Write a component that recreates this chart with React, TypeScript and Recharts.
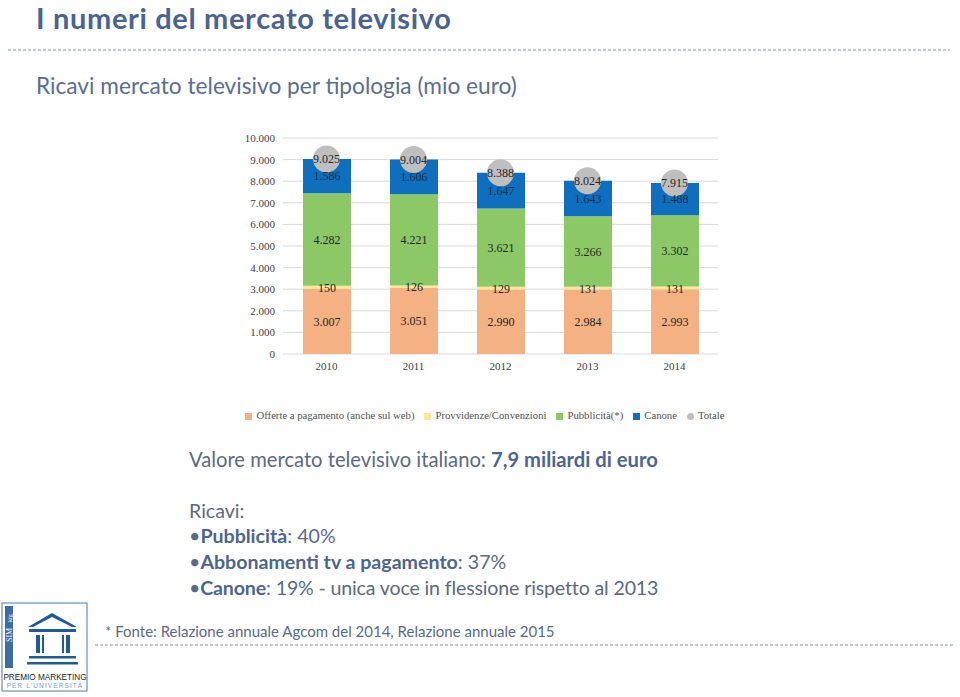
import {
  ComposedChart, Bar, Line, XAxis, YAxis, CartesianGrid, Legend, LabelList
} from 'recharts';

const years = ['2010', '2011', '2012', '2013', '2014'];
const offerte = [3007, 3051, 2990, 2984, 2993];
const provvidenze = [150, 126, 129, 131, 131];
const pubblicita = [4282, 4221, 3621, 3266, 3302];
const canone = [1586, 1606, 1647, 1643, 1488];
const totale = [9025, 9004, 8388, 8024, 7915];
const yTicks = [0, 1000, 2000, 3000, 4000, 5000, 6000, 7000, 8000, 9000, 10000];
const seriesNames = ['Offerte a pagamento (anche sul web)', 'Provvidenze/Convenzioni', 'Pubblicità(*)', 'Canone', 'Totale'];

const data = years.map((year, i) => ({
  year,
  offerte: offerte[i],
  provvidenze: provvidenze[i],
  pubblicita: pubblicita[i],
  canone: canone[i],
  totale: totale[i],
}));

// punto come separatore delle migliaia
const fmt = (v: any) => String(v).replace(/\B(?=(\d{3})+(?!\d))/g, '.');

const SERIF = '"Liberation Serif", "Times New Roman", serif';
const SANS = 'Lato, "Open Sans", sans-serif';
const labelStyle = { fill: '#262626', fontSize: 12, fontFamily: SERIF };
const textCol = '#5b6a84';
const boldCol = '#4d6590';

function Logo() {
  return (
    <svg width={90} height={92} style={{ position: 'absolute', left: 0, top: 602 }}>
      <rect x={2} y={1} width={85} height={88} fill="#fff" stroke="#4a78ad" strokeWidth={1} />
      <rect x={5} y={4} width={8} height={62} fill="#3c6ea5" />
      <text x={0} y={0} transform="translate(11.5,40) rotate(-90)" fontSize={8} fill="#fff" fontFamily={SERIF}>SIM</text>
      <text x={0} y={0} transform="translate(11.5,20) rotate(-90)" fontSize={6} fill="#fff" fontFamily={SERIF}>ktg</text>
      <polygon points="28,25 52,11 77,25 72,25 52,15 33,25" fill="#1f5b98" />
      <rect x={29} y={27} width={47} height={3} fill="#1f5b98" />
      <rect x={36} y={33} width={4} height={18} fill="#1f5b98" />
      <rect x={42} y={33} width={2} height={18} fill="#1f5b98" />
      <rect x={62} y={33} width={2} height={18} fill="#1f5b98" />
      <rect x={66} y={33} width={4} height={18} fill="#1f5b98" />
      <rect x={29} y={54} width={47} height={2.5} fill="#1f5b98" />
      <rect x={27} y={60} width={51} height={2.5} fill="#1f5b98" />
      <text x={45} y={78} textAnchor="middle" fontSize={8.2} fill="#1a1a1a" fontFamily='"Liberation Sans", Arial, sans-serif'>PREMIO MARKETING</text>
      <text x={45} y={86} textAnchor="middle" fontSize={6.5} letterSpacing={1.1} fill="#6f9fd0" fontFamily='"Liberation Sans", Arial, sans-serif'>PER L'UNIVERSITÀ</text>
    </svg>
  );
}

export default function App() {
  return (
    <div style={{ position: 'absolute', left: 0, top: 0, width: 960, height: 697, background: '#fff', overflow: 'hidden' }}>
      <svg width={960} height={697} style={{ position: 'absolute', left: 0, top: 0 }}>
        <text x={36} y={29} fontSize={29} letterSpacing={0.65} fontWeight={700} fill="#4a6390" fontFamily={SANS}>I numeri del mercato televisivo</text>
        <line x1={8} y1={50} x2={950} y2={50} stroke="#8595b0" strokeWidth={1} strokeDasharray="3 2" />
        <text x={36} y={94} fontSize={22.7} fill="#5b6d8e" fontFamily={SANS}>Ricavi mercato televisivo per tipologia (mio euro)</text>

        <text x={189} y={467} fontSize={20.2} fill={textCol} fontFamily={SANS}>
          Valore mercato televisivo italiano: <tspan fontWeight={700} fill={boldCol}>7,9 miliardi di euro</tspan>
        </text>
        <text x={189} y={518} fontSize={19.6} fill={textCol} fontFamily={SANS}>Ricavi:</text>
        <text x={189} y={543} fontSize={19.6} fill={textCol} fontFamily={SANS}>
          •<tspan fontWeight={700} fill={boldCol}>Pubblicità</tspan>: 40%
        </text>
        <text x={189} y={569} fontSize={19.6} fill={textCol} fontFamily={SANS}>
          •<tspan fontWeight={700} fill={boldCol}>Abbonamenti tv a pagamento</tspan>: 37%
        </text>
        <text x={189} y={595} fontSize={19.6} letterSpacing={-0.15} fill={textCol} fontFamily={SANS}>
          •<tspan fontWeight={700} fill={boldCol}>Canone</tspan>: 19% - unica voce in flessione rispetto al 2013
        </text>

        <text x={105} y={637} fontSize={15} fill={textCol} fontFamily={SANS}>* Fonte: Relazione annuale Agcom del 2014, Relazione annuale 2015</text>
        <line x1={95} y1={645} x2={955} y2={645} stroke="#8595b0" strokeWidth={1} strokeDasharray="3 2" />
      </svg>

      <Logo />

      <div style={{ position: 'absolute', left: 240, top: 128 }}>
        <ComposedChart
          width={490}
          height={301}
          data={data}
          margin={{ top: 10, right: 12, bottom: 0, left: 0 }}
          barSize={48}
        >
          <CartesianGrid vertical={false} stroke="#d9d9d9" />
          <XAxis
            dataKey="year"
            axisLine={false}
            tickLine={false}
            height={55}
            tick={{ fill: '#404040', fontSize: 11, fontFamily: SERIF }}
          />
          <YAxis
            width={43}
            domain={[0, 10000]}
            ticks={yTicks}
            interval={0}
            axisLine={false}
            tickLine={false}
            tickFormatter={fmt}
            tick={{ fill: '#404040', fontSize: 11, fontFamily: SERIF }}
          />
          <Legend
            verticalAlign="bottom"
            height={20}
            width={500}
            iconSize={7}
            itemSorter={(item: any) => seriesNames.indexOf(item.value)}
            wrapperStyle={{ fontSize: 10.7, fontFamily: SERIF, whiteSpace: 'nowrap' }}
            formatter={(value: any) => <span style={{ color: '#505050' }}>{value}</span>}
          />
          <Bar dataKey="offerte" name={seriesNames[0]} stackId="a" fill="#f4b183" legendType="square" isAnimationActive={false}>
            <LabelList dataKey="offerte" position="center" formatter={fmt} style={labelStyle} />
          </Bar>
          <Bar dataKey="provvidenze" name={seriesNames[1]} stackId="a" fill="#ffe699" legendType="square" isAnimationActive={false}>
            <LabelList dataKey="provvidenze" position="top" offset={-6} formatter={fmt} style={labelStyle} />
          </Bar>
          <Bar dataKey="pubblicita" name={seriesNames[2]} stackId="a" fill="#8cc866" legendType="square" isAnimationActive={false}>
            <LabelList dataKey="pubblicita" position="center" formatter={fmt} style={labelStyle} />
          </Bar>
          <Bar dataKey="canone" name={seriesNames[3]} stackId="a" fill="#0e6fbe" legendType="square" isAnimationActive={false}>
            <LabelList dataKey="canone" position="center" formatter={fmt} style={{ ...labelStyle, fill: '#1b2d4a' }} />
          </Bar>
          <Line
            dataKey="totale"
            name={seriesNames[4]}
            stroke="#bfbfbf"
            strokeWidth={0}
            legendType="circle"
            dot={{ r: 13.5, fill: '#bfbfbf', stroke: 'none' }}
            activeDot={false}
            isAnimationActive={false}
          >
            <LabelList dataKey="totale" position="center" formatter={fmt} style={labelStyle} />
          </Line>
        </ComposedChart>
      </div>
    </div>
  );
}
